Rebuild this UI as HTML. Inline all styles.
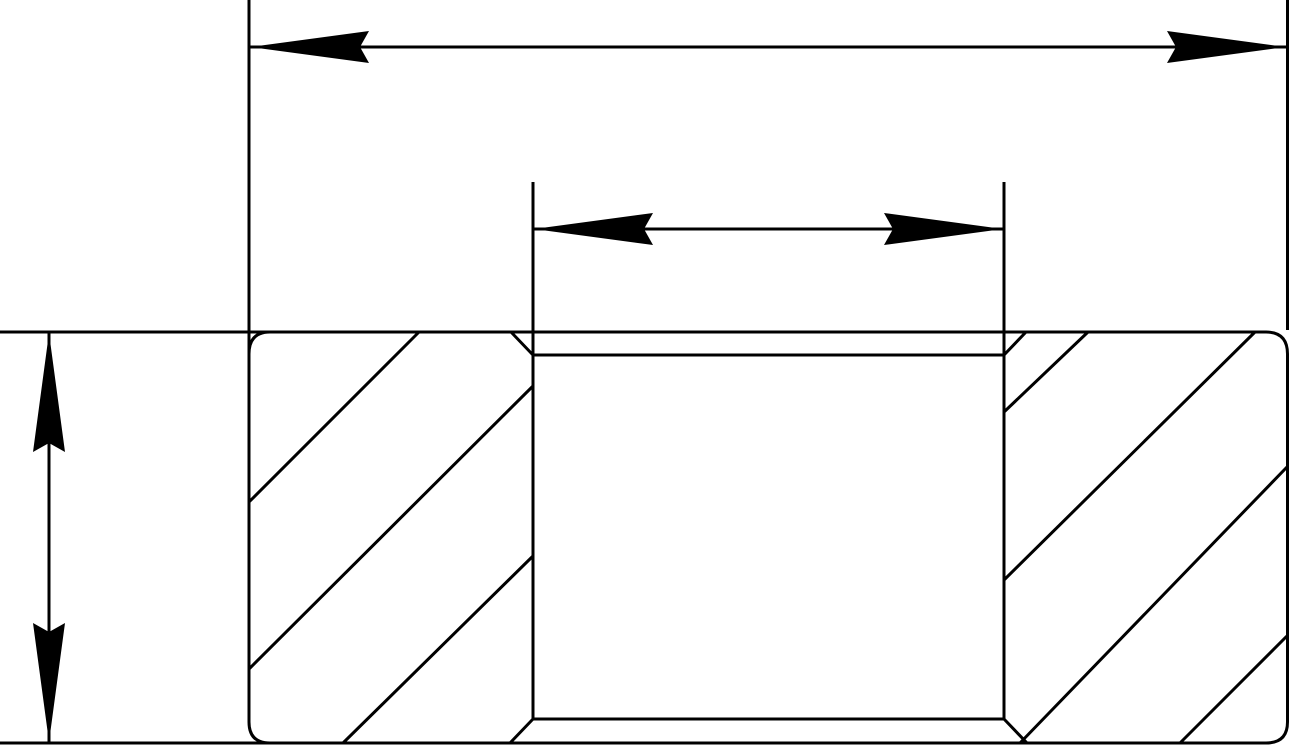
<!DOCTYPE html>
<html><head><meta charset="utf-8"><style>html,body{margin:0;padding:0;background:#fff}svg{display:block}</style></head>
<body>
<svg width="1291" height="748" viewBox="0 0 1291 748" xmlns="http://www.w3.org/2000/svg">
<g stroke="#000" stroke-width="3" fill="none">
<line x1="249" y1="0" x2="249" y2="722"/>
<line x1="1287.5" y1="0" x2="1287.5" y2="330"/>
<line x1="533" y1="182" x2="533" y2="332"/>
<line x1="1004" y1="182" x2="1004" y2="332"/>
<line x1="0" y1="332" x2="1266" y2="332"/>
<line x1="0" y1="743" x2="1266" y2="743"/>
<path d="M249 722 Q249 743 270 743"/>
<path d="M249 354 Q249 332 270 332"/>
<path d="M1266 332 Q1287.5 332 1287.5 354 L1287.5 722 Q1287.5 743 1266 743"/>
<line x1="533" y1="332" x2="533" y2="719"/>
<line x1="1004" y1="332" x2="1004" y2="719"/>
<line x1="533" y1="355" x2="1004" y2="355"/>
<line x1="533" y1="719" x2="1004" y2="719"/>
<line x1="511" y1="332" x2="533" y2="355"/>
<line x1="510" y1="743" x2="533" y2="719"/>
<line x1="1026" y1="332" x2="1004" y2="355"/>
<line x1="1027" y1="743" x2="1004" y2="719"/>
<line x1="249" y1="502" x2="419" y2="332"/>
<line x1="249" y1="669" x2="533" y2="386"/>
<line x1="343" y1="743" x2="533" y2="556"/>
<line x1="1004" y1="412" x2="1088" y2="332"/>
<line x1="1004" y1="580" x2="1255" y2="332"/>
<line x1="1020" y1="743" x2="1287" y2="467"/>
<line x1="1180" y1="743" x2="1287" y2="636"/>
<line x1="249" y1="47" x2="1287" y2="47"/>
<line x1="533" y1="229" x2="1004" y2="229"/>
<line x1="49" y1="332" x2="49" y2="743"/>
</g>
<g fill="#000">
<polygon points="250,47 369,31 360,47 369,63"/>
<polygon points="1286,47 1167,31 1176,47 1167,63"/>
<polygon points="534,229 653,213 644,229 653,245"/>
<polygon points="1003,229 884,213 893,229 884,245"/>
<polygon points="49,333 33,452 49,443 65,452"/>
<polygon points="49,742 33,623 49,632 65,623"/>
</g>
</svg>
</body></html>
